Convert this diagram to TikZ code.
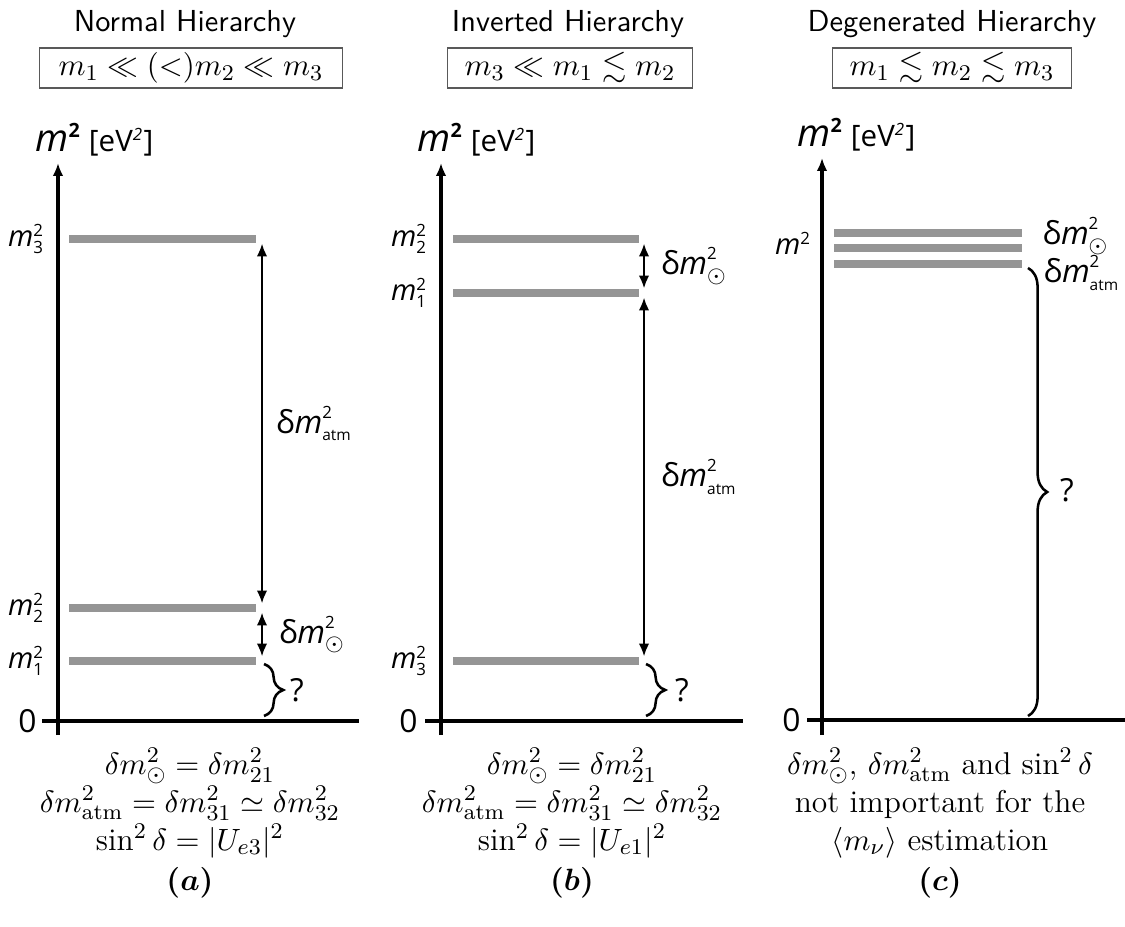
\documentclass[tikz,border=0pt]{standalone}
\usepackage{fontspec}
\usepackage{amsmath}
\usepackage{amssymb}
\usetikzlibrary{decorations.pathreplacing, arrows.meta}

\newfontfamily\lblf{Open Sans}
\definecolor{levelgray}{HTML}{959595}

% Beschriftungen im Diagramm (m^2_i und delta m^2)
\newcommand{\smallnum}{\lblf\fontsize{6}{7}\selectfont}
\newcommand{\tinynum}{\lblf\fontsize{5.5}{6}\selectfont}
\newcommand{\msq}[1]{$\hbox{\lblf\itshape m}^{\hbox{\smallnum 2}}_{\hbox{\smallnum #1}}$}
\newcommand{\dmsq}[1]{$\hbox{\lblf δ\itshape m}^{\hbox{\smallnum 2}}_{#1}$}
\newcommand{\axlbl}{$\hbox{\lblf\itshape\fontsize{13.5}{16}\selectfont m}^{\hbox{\lblf\bfseries\fontsize{7}{8}\selectfont 2}}$ {\lblf [eV$^{\hbox{\smallnum\itshape 2}}$]}}

\tikzset{
  title/.style={font=\sffamily\fontsize{10.8}{13}\selectfont},
  relbox/.style={draw=black!65, line width=0.5pt, minimum height=0.5cm, inner sep=1pt, font=\fontsize{11.3}{14}\selectfont},
  axlabel/.style={font=\lblf\fontsize{10.5}{12}\selectfont, anchor=west, inner sep=0pt},
  lbl/.style={font=\lblf\fontsize{11.3}{13}\selectfont, inner sep=0pt},
  lvllbl/.style={font=\lblf\fontsize{10.3}{12}\selectfont, inner sep=0pt, anchor=east},
  axis/.style={line width=1.1pt},
  axisarrow/.style={axis, -{Latex[length=4.6pt,width=3.8pt]}},
  level/.style={levelgray, line width=2.5pt},
  gap/.style={{Latex[length=4.6pt,width=3.8pt]}-{Latex[length=4.6pt,width=3.8pt]}, line width=0.9pt, shorten <=1.6pt, shorten >=1.6pt},
  qbrace/.style={decorate, decoration={brace, amplitude=0.24cm}, line width=0.9pt},
  eq/.style={anchor=base, font=\fontsize{11.2}{13.6}\selectfont, inner sep=0pt},
}

\begin{document}
\begin{tikzpicture}[x=0.0125cm, y=-0.0125cm]
\useasboundingbox (0,0) rectangle (1125,927);

% ---------- (a) Normal Hierarchy ----------
\node[title, anchor=base] (tA) at (185,32) {Normal Hierarchy};
\node[relbox, minimum width=3.78cm] (rA) at (191,68) {$m_1 \ll (<) m_2 \ll m_3$};
\node[axlabel] (yA) at (35,140) {\axlbl};

% Achsen
\draw[axisarrow] (58,735) -- (58,163);
\draw[axis] (42,721) -- (359,721);
\node[lbl, anchor=east] (zA) at (37,721) {0};

% Massenniveaus
\draw[level] (69,239) -- (256,239);
\draw[level] (69,608) -- (256,608);
\draw[level] (69,661) -- (256,661);
\node[lvllbl] (m3A) at (45,239) {\msq{3}};
\node[lvllbl] (m2A) at (45,608) {\msq{2}};
\node[lvllbl] (m1A) at (45,661) {\msq{1}};

\coordinate (A3) at (262,239);
\coordinate (A2) at (262,608);
\coordinate (A1) at (262,661);
\draw[gap] (A3) -- (A2) node[lbl, midway, right=4.6pt] (atmA) {\dmsq{\hbox{\tinynum atm}}};
\draw[gap] (A2) -- (A1) node[lbl, midway, right=5.6pt] (solA) {\dmsq{\odot}};
\draw[qbrace] (264,664) -- (264,716);
\node[lbl] (qA) at (297,690) {?};

% Formeln unten
\node[eq] (eA1) at (190,774) {$\delta m^2_\odot = \delta m^2_{21}$};
\node[eq] (eA2) at (190,812) {$\delta m^2_{\mathrm{atm}} = \delta m^2_{31} \simeq \delta m^2_{32}$};
\node[eq] (eA3) at (190,850) {$\sin^2\delta = \lvert U_{e3}\rvert^2$};
\node[eq] (eA4) at (190,890) {$\boldsymbol{(a)}$};

% ---------- (b) Inverted Hierarchy ----------
\node[title, anchor=base] (tB) at (568,32) {Inverted Hierarchy};
\node[relbox, minimum width=3.06cm] (rB) at (570,68) {$m_3 \ll m_1 \lesssim m_2$};
\node[axlabel] (yB) at (417,140) {\axlbl};

\draw[axisarrow] (441,735) -- (441,163);
\draw[axis] (425,721) -- (743,721);
\node[lbl, anchor=east] (zB) at (418,721) {0};

\draw[level] (453,239) -- (639,239);
\draw[level] (453,293) -- (639,293);
\draw[level] (453,661) -- (639,661);
\node[lvllbl] (m2B) at (428,239) {\msq{2}};
\node[lvllbl] (m1B) at (428,293) {\msq{1}};
\node[lvllbl] (m3B) at (428,661) {\msq{3}};

\coordinate (B2) at (644,239);
\coordinate (B1) at (644,293);
\coordinate (B3) at (644,661);
\draw[gap] (B2) -- (B1) node[lbl, midway, right=5.6pt] (solB) {\dmsq{\odot}};
\draw[gap] (B1) -- (B3) node[lbl, midway, right=5.6pt] (atmB) {\dmsq{\hbox{\tinynum atm}}};
\draw[qbrace] (646,664) -- (646,716);
\node[lbl] (qB) at (682,690) {?};

\node[eq] (eB1) at (572,774) {$\delta m^2_\odot = \delta m^2_{21}$};
\node[eq] (eB2) at (572,812) {$\delta m^2_{\mathrm{atm}} = \delta m^2_{31} \simeq \delta m^2_{32}$};
\node[eq] (eB3) at (572,850) {$\sin^2\delta = \lvert U_{e1}\rvert^2$};
\node[eq] (eB4) at (572,890) {$\boldsymbol{(b)}$};

% ---------- (c) Degenerated Hierarchy ----------
\node[title, anchor=base] (tC) at (952,32) {Degenerated Hierarchy};
\node[relbox, minimum width=2.99cm] (rC) at (952,68) {$m_1 \lesssim m_2 \lesssim m_3$};
\node[axlabel] (yC) at (797,135) {\axlbl};

\draw[axisarrow] (822,735) -- (822,158);
\draw[axis] (807,720) -- (1125,720);
\node[lbl, anchor=east] (zC) at (801,720) {0};

\draw[level] (834,233) -- (1022,233);
\draw[level] (834,248) -- (1022,248);
\draw[level] (834,264) -- (1022,264);
\node[lvllbl] (mC) at (812,243) {$\hbox{\lblf\itshape m}^{\hbox{\smallnum 2}}$};
\node[lbl, anchor=west] (solC) at (1042,236) {\dmsq{\odot}};
\node[lbl, anchor=west] (atmC) at (1043,273) {\dmsq{\hbox{\tinynum atm}}};
\draw[qbrace] (1028,268) -- (1028,716);
\node[lbl] (qC) at (1067,490) {?};

\node[eq] (eC1) at (940,774) {$\delta m^2_\odot$, $\delta m^2_{\mathrm{atm}}$ and $\sin^2\delta$};
\node[eq] (eC2) at (940,812) {not important for the};
\node[eq] (eC3) at (940,850) {$\langle m_\nu \rangle$ estimation};
\node[eq] (eC4) at (940,890) {$\boldsymbol{(c)}$};
\end{tikzpicture}
\end{document}
